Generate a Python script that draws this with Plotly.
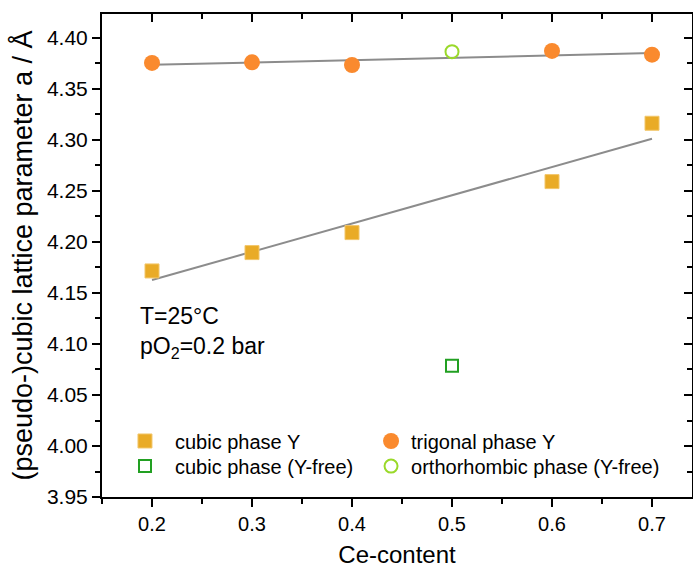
import numpy as np
import plotly.graph_objects as go

ce_content = [0.2, 0.3, 0.4, 0.6, 0.7]
cubic_y = [4.1716, 4.1896, 4.2092, 4.2592, 4.3164]
trigonal_y = [4.3755, 4.3761, 4.3735, 4.3873, 4.3836]
ce_free = [0.5]
cubic_free = [4.0787]
ortho_free = [4.3866]

x_ticks = [0.2, 0.3, 0.4, 0.5, 0.6, 0.7]
x_labels = ["0.2", "0.3", "0.4", "0.5", "0.6", "0.7"]
y_ticks = [3.95, 4.0, 4.05, 4.1, 4.15, 4.2, 4.25, 4.3, 4.35, 4.4]
y_labels = ["3.95", "4.00", "4.05", "4.10", "4.15", "4.20", "4.25", "4.30", "4.35", "4.40"]

FONT = "Liberation Sans, Arial, sans-serif"

fit_c = np.polyfit(ce_content, cubic_y, 1)
fit_t = np.polyfit(ce_content, trigonal_y, 1)
xf = np.array([min(ce_content), max(ce_content)])

fig = go.Figure()
fig.add_trace(go.Scatter(x=xf, y=np.polyval(fit_c, xf), mode="lines",
                         line=dict(color="#8c8c8c", width=2), showlegend=False, hoverinfo="skip"))
fig.add_trace(go.Scatter(x=xf, y=np.polyval(fit_t, xf), mode="lines",
                         line=dict(color="#8c8c8c", width=2), showlegend=False, hoverinfo="skip"))
fig.add_trace(go.Scatter(x=ce_content, y=cubic_y, mode="markers", name="cubic phase Y",
                         marker=dict(symbol="square", size=14, color="#E9AB27",
                                     line=dict(width=1, color="#F2C66A")), legend="legend"))
fig.add_trace(go.Scatter(x=ce_free, y=cubic_free, mode="markers", name="cubic phase (Y-free)",
                         marker=dict(symbol="square-open", size=12, color="#22A022",
                                     line=dict(width=2)), legend="legend2"))
fig.add_trace(go.Scatter(x=ce_content, y=trigonal_y, mode="markers", name="trigonal phase Y",
                         marker=dict(symbol="circle", size=16, color="#FA8A2E"), legend="legend3"))
fig.add_trace(go.Scatter(x=ce_free, y=ortho_free, mode="markers", name="orthorhombic phase (Y-free)",
                         marker=dict(symbol="circle-open", size=13, color="#9AD92A",
                                     line=dict(width=2)), legend="legend4"))
# invisible trace for mirrored axes
fig.add_trace(go.Scatter(x=[0.2], y=[4.0], xaxis="x2", yaxis="y2", mode="markers",
                         marker=dict(opacity=0), showlegend=False, hoverinfo="skip"))

xr = [0.15, 0.74]
yr = [3.95, 4.4235]
common = dict(showgrid=False, zeroline=False, showline=True, linecolor="black", linewidth=2,
              tickcolor="black", tickwidth=2)

def leg(x, y, iw=30):
    return dict(x=x, y=y, xanchor="left", yanchor="middle", bgcolor="rgba(0,0,0,0)",
                font=dict(size=20), itemwidth=iw)

fig.update_layout(
    width=693, height=571,
    margin=dict(l=102, r=1, t=14, b=74),
    paper_bgcolor="white", plot_bgcolor="white",
    font=dict(family=FONT, size=20, color="black"),
    xaxis=dict(range=xr, tickvals=x_ticks, ticktext=x_labels,
               ticks="outside", ticklen=8,
               minor=dict(ticks="outside", ticklen=5, dtick=0.05, tick0=0.15, tickcolor="black", tickwidth=2),
               title=dict(text="Ce-content", font=dict(size=24), standoff=12),
               tickfont=dict(size=20), **common),
    yaxis=dict(range=yr, tickvals=y_ticks, ticktext=y_labels,
               ticks="outside", ticklen=8,
               minor=dict(ticks="outside", ticklen=5, dtick=0.025, tick0=3.95, tickcolor="black", tickwidth=2),
               title=dict(text="(pseudo-)cubic lattice parameter a / Å", font=dict(size=27), standoff=6),
               tickfont=dict(size=21), **common),
    xaxis2=dict(range=xr, overlaying="x", side="top", tickvals=x_ticks,
                ticks="inside", ticklen=8, showticklabels=False,
                minor=dict(ticks="inside", ticklen=5, dtick=0.05, tick0=0.15, tickcolor="black", tickwidth=2),
                **common),
    yaxis2=dict(range=yr, overlaying="y", side="right", tickvals=y_ticks,
                ticks="inside", ticklen=8, showticklabels=False,
                minor=dict(ticks="inside", ticklen=5, dtick=0.025, tick0=3.95, tickcolor="black", tickwidth=2),
                **common),
    legend=leg(0.022, 0.116, 50),
    legend2=leg(0.022, 0.064, 50),
    legend3=leg(0.456, 0.116),
    legend4=leg(0.456, 0.064),
    annotations=[dict(text="T=25°C<br>pO<sub>2</sub>=0.2 bar", xref="paper", yref="paper",
                      x=0.061, y=0.34, xanchor="left", yanchor="middle", align="left",
                      showarrow=False, font=dict(size=23))],
)

fig.write_html("out.html")
